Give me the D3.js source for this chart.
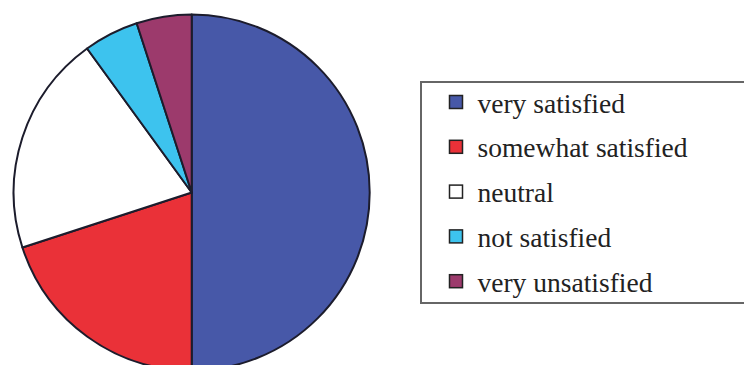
<!DOCTYPE html>
<html>
<head>
<meta charset="utf-8">
<script src="https://cdn.jsdelivr.net/npm/d3@7"></script>
<style>
  html, body { margin: 0; padding: 0; background: #fff; }
  svg { display: block; }
  .lg { font-family: "Liberation Serif", "Times New Roman", Times, "DejaVu Serif", serif; }
</style>
</head>
<body>
<svg id="chart" width="744" height="365"></svg>
<script>
const categories = ["very satisfied", "somewhat satisfied", "neutral", "not satisfied", "very unsatisfied"];
const values = [50, 20, 20, 5, 5];
const colors = ["#4758a8", "#ea3138", "#ffffff", "#3dc3ee", "#9c3a6c"];

const svg = d3.select("#chart");

const cx = 191.7, cy = 192.5, r = 178;

const pie = d3.pie().sort(null).value(d => d.value);
const arc = d3.arc().innerRadius(0).outerRadius(r);
const data = categories.map((c, i) => ({ name: c, value: values[i], color: colors[i] }));

const g = svg.append("g").attr("transform", `translate(${cx},${cy})`);
g.selectAll("path")
  .data(pie(data))
  .join("path")
  .attr("d", arc)
  .attr("fill", d => d.data.color)
  .attr("stroke", "#1c1c2c")
  .attr("stroke-width", 2)
  .attr("stroke-linejoin", "round");

// Legend
const legend = svg.append("g");
legend.append("rect")
  .attr("x", 421).attr("y", 82)
  .attr("width", 340).attr("height", 221)
  .attr("fill", "#fff")
  .attr("stroke", "#666")
  .attr("stroke-width", 2);

const rowY = d3.scalePoint().domain(categories).range([112.5, 291.7]);

const rows = legend.selectAll("g.row")
  .data(data)
  .join("g")
  .attr("class", "row")
  .attr("transform", d => `translate(0,${rowY(d.name)})`);

rows.append("rect")
  .attr("x", 449.5).attr("y", -17)
  .attr("width", 13).attr("height", 13)
  .attr("fill", d => d.color)
  .attr("stroke", "#222")
  .attr("stroke-width", 1.5);

rows.append("text")
  .attr("class", "lg")
  .attr("x", 477.5).attr("y", 0)
  .attr("font-size", 27.5)
  .attr("fill", "#222")
  .text(d => d.name);
</script>
</body>
</html>
